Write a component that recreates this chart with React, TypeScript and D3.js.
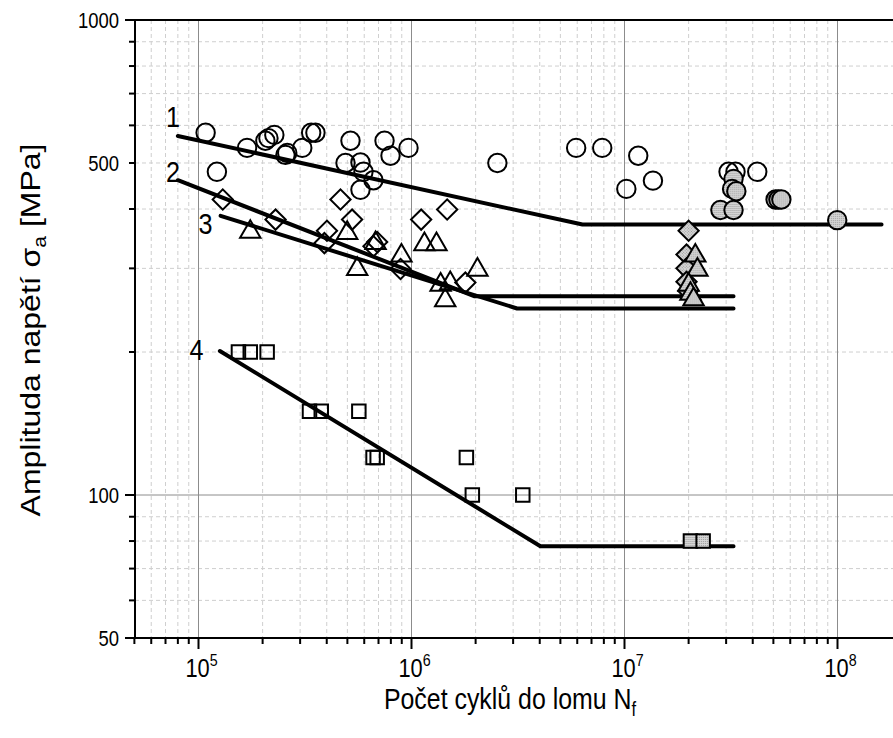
import React from "react";
import * as d3 from "d3";

// ---- data (N cycles, stress amplitude MPa) ----
const circlesOpen: [number, number][] = [
  [1.08e5, 579], [1.22e5, 479], [1.69e5, 538], [2.06e5, 557], [2.13e5, 564], [2.27e5, 573],
  [2.56e5, 520], [2.61e5, 525], [3.07e5, 538], [3.38e5, 579], [3.54e5, 579], [5.17e5, 557],
  [4.9e5, 500], [5.76e5, 501], [5.95e5, 479], [6.63e5, 460], [5.76e5, 439], [7.47e5, 557],
  [7.97e5, 518], [9.68e5, 538], [2.53e6, 500], [5.93e6, 538], [7.86e6, 538], [1.16e7, 518],
  [1.02e7, 441], [1.36e7, 459], [3.08e7, 479], [3.32e7, 479], [4.2e7, 479],
];
const circlesRunout: [number, number][] = [
  [3.25e7, 463], [3.2e7, 441], [3.35e7, 436], [2.82e7, 398], [3.25e7, 398],
  [5.12e7, 419], [5.28e7, 419], [5.45e7, 419], [9.97e7, 379],
];
const diamondsOpen: [number, number][] = [
  [1.3e5, 419], [2.3e5, 380], [4.01e5, 360], [3.9e5, 339], [4.64e5, 419], [5.26e5, 380],
  [6.9e5, 341], [6.63e5, 334], [8.88e5, 299], [1.11e6, 380], [1.47e6, 399], [1.79e6, 280],
];
const diamondsRunout: [number, number][] = [
  [2.0e7, 360], [1.955e7, 321], [1.955e7, 300], [1.955e7, 281], [1.99e7, 269],
];
const trianglesOpen: [number, number][] = [
  [1.75e5, 358], [4.99e5, 356], [6.78e5, 339], [5.56e5, 299], [8.97e5, 319], [1.15e6, 337],
  [1.31e6, 337], [1.37e6, 277], [1.52e6, 279], [1.44e6, 257], [2.04e6, 298],
];
const trianglesRunout: [number, number][] = [
  [2.15e7, 319], [2.2e7, 298], [2.0e7, 277], [2.04e7, 265], [2.11e7, 258],
];
const squaresOpen: [number, number][] = [
  [1.54e5, 200], [1.75e5, 200], [2.1e5, 200], [3.32e5, 150], [3.77e5, 150], [5.66e5, 150],
  [6.6e5, 120], [6.9e5, 120], [1.81e6, 120], [1.93e6, 100], [3.33e6, 100],
];
const squaresRunout: [number, number][] = [[2.04e7, 80], [2.34e7, 80]];

const curve1: [number, number][] = [[8e4, 570], [6.35e6, 371], [1.61e8, 371]];
const curve2: [number, number][] = [[8e4, 460], [1.98e6, 262], [3.25e7, 262]];
const curve3: [number, number][] = [[1.27e5, 387], [3.13e6, 247], [3.25e7, 247]];
const curve4: [number, number][] = [[1.26e5, 201], [4.03e6, 78], [3.25e7, 78]];
const curveNames = ["1", "2", "3", "4"];

const yTickLabels = [1000, 500, 100, 50];
const xTickExponents = [5, 6, 7, 8];

const xTitle = "Počet cyklů do lomu N";
const xTitleSub = "f";
const yTitle = "Amplituda napětí σ";
const yTitleSub = "a";
const yTitleEnd = " [MPa]";

// ---- layout ----
const W = 893;
const H = 738;
const L = 135, R = 893, T = 20, B = 638;
const FONT = "'Liberation Sans', Arial, sans-serif";
const SX = 0.84; // horizontal squeeze of the lettering

export default function App() {
  const x = d3.scaleLog().domain([1e5, 1e8]).range([198.5, 837.5]);
  const y = d3.scaleLog().domain([50, 1000]).range([B, T]);

  const xMinor: number[] = [];
  const xMajor: number[] = [];
  for (let e = 4; e <= 8; e++) {
    for (let k = 1; k <= 9; k++) {
      const v = k * Math.pow(10, e);
      const px = x(v);
      if (px < L - 1 || px > R) continue;
      if (k === 1) xMajor.push(v);
      else xMinor.push(v);
    }
  }
  const yMinor: number[] = [];
  const yMajor: number[] = [];
  for (let e = 1; e <= 2; e++) {
    for (let k = 1; k <= 9; k++) {
      const v = k * Math.pow(10, e);
      if (v < 50 || v > 1000) continue;
      if (k === 1) yMajor.push(v);
      else yMinor.push(v);
    }
  }

  const line = d3.line<[number, number]>().x((d) => x(d[0])).y((d) => y(d[1]));
  const circ = d3.symbol().type(d3.symbolCircle).size(Math.PI * 85)();
  const sq = d3.symbol().type(d3.symbolSquare).size(182)();
  const dia = d3.symbol().type(d3.symbolSquare).size(205)();
  const tri = d3.symbol().type(d3.symbolTriangle).size(180)();
  const GRAY = "url(#dots)";

  const markers = (
    data: [number, number][],
    path: string | null,
    fill: string,
    rot = 0,
    key = ""
  ) =>
    data.map((d, i) => (
      <path
        key={key + i}
        d={path || ""}
        transform={`translate(${x(d[0])},${y(d[1])}) rotate(${rot})`}
        fill={fill}
        stroke="#000"
        strokeWidth={2}
      />
    ));

  return (
    <div>
      <style>{`body{margin:0}`}</style>
      <svg width={W} height={H} style={{ display: "block", background: "#fff" }}>
        <defs>
          <clipPath id="plot">
            <rect x={L} y={T} width={R - L} height={B - T} />
          </clipPath>
          <pattern id="dots" width={2} height={2} patternUnits="userSpaceOnUse">
            <rect width={2} height={2} fill="#d6d6d6" />
            <rect width={1} height={1} fill="#9a9a9a" />
          </pattern>
        </defs>
        {/* grid */}
        <g clipPath="url(#plot)">
          {xMinor.map((v, i) => (
            <line key={"xm" + i} x1={x(v)} x2={x(v)} y1={T} y2={B} stroke="#cfcfcf" strokeWidth={1} strokeDasharray="4,3" />
          ))}
          {yMinor.map((v, i) => (
            <line key={"ym" + i} x1={L} x2={R} y1={y(v)} y2={y(v)} stroke="#cfcfcf" strokeWidth={1} strokeDasharray="4,3" />
          ))}
          {xMajor.map((v, i) => (
            <line key={"xM" + i} x1={x(v)} x2={x(v)} y1={T} y2={B} stroke="#8c8c8c" strokeWidth={1} />
          ))}
          {yMajor.map((v, i) => (
            <line key={"yM" + i} x1={L} x2={R} y1={y(v)} y2={y(v)} stroke="#8c8c8c" strokeWidth={1} />
          ))}
        </g>
        {/* curves */}
        {[curve1, curve2, curve3, curve4].map((c, i) => (
          <path key={"c" + i} d={line(c) || ""} fill="none" stroke="#000" strokeWidth={4} strokeLinejoin="round" strokeLinecap="round" />
        ))}
        {/* markers */}
        {markers(circlesOpen, circ, "none", 0, "co")}
        {markers(circlesRunout, circ, GRAY, 0, "cr")}
        {markers(diamondsOpen, dia, "none", 45, "do")}
        {markers(diamondsRunout, dia, GRAY, 45, "dr")}
        {markers(trianglesOpen, tri, "none", 0, "to")}
        {markers(trianglesRunout, tri, GRAY, 0, "tr")}
        {markers(squaresOpen, sq, "none", 0, "so")}
        {markers(squaresRunout, sq, GRAY, 0, "sr")}
        {/* curve labels */}
        <g fontFamily={FONT} fontSize={30} fill="#000" textAnchor="middle">
          <text transform={`translate(173,127) scale(${SX},1)`}>{curveNames[0]}</text>
          <text transform={`translate(173,182) scale(${SX},1)`}>{curveNames[1]}</text>
          <text transform={`translate(205.5,233.5) scale(${SX},1)`}>{curveNames[2]}</text>
          <text transform={`translate(196.5,360) scale(${SX},1)`}>{curveNames[3]}</text>
        </g>
        {/* axes */}
        <line x1={L} x2={R} y1={T} y2={T} stroke="#000" strokeWidth={2} />
        <line x1={L} x2={L} y1={T - 1} y2={B + 1} stroke="#000" strokeWidth={2} />
        <line x1={L - 1} x2={R} y1={B} y2={B} stroke="#000" strokeWidth={2} />
        {xMinor.map((v, i) => (
          <line key={"xt" + i} x1={x(v)} x2={x(v)} y1={B} y2={B + 6} stroke="#000" strokeWidth={2} />
        ))}
        {xMajor.map((v, i) => (
          <line key={"xT" + i} x1={x(v)} x2={x(v)} y1={B} y2={B + 11} stroke="#000" strokeWidth={2} />
        ))}
        {yMinor.map((v, i) => (
          <line key={"yt" + i} x1={L - 6} x2={L} y1={y(v)} y2={y(v)} stroke="#000" strokeWidth={2} />
        ))}
        {[...yMajor, 1000, 50].map((v, i) => (
          <line key={"yT" + i} x1={L - 10} x2={L} y1={y(v)} y2={y(v)} stroke="#000" strokeWidth={2} />
        ))}
        <g fontFamily={FONT} fill="#000">
          {yTickLabels.map((v, i) => (
            <text key={"yl" + i} fontSize={22} transform={`translate(${L - 16},${y(v) + 8}) scale(${SX},1)`} textAnchor="end">{v}</text>
          ))}
          {xTickExponents.map((e, i) => (
            <text key={"xl" + i} fontSize={26} transform={`translate(${x(Math.pow(10, e)) + 3},677) scale(${SX},1)`} textAnchor="middle">
              10<tspan fontSize={17} dy={-11}>{e}</tspan>
            </text>
          ))}
        </g>
        <text transform={`translate(510,709) scale(0.83,1)`} fontFamily={FONT} fontSize={30} textAnchor="middle" fill="#000">
          {xTitle}
          <tspan fontSize={20} dy={7}>{xTitleSub}</tspan>
        </text>
        <text transform={`translate(40,330) scale(${SX},1) rotate(-90)`} fontFamily={FONT} fontSize={32} textAnchor="middle" fill="#000">
          {yTitle}
          <tspan fontSize={21} dy={7}>{yTitleSub}</tspan>
          <tspan fontSize={32} dy={-7}>{yTitleEnd}</tspan>
        </text>
      </svg>
    </div>
  );
}
